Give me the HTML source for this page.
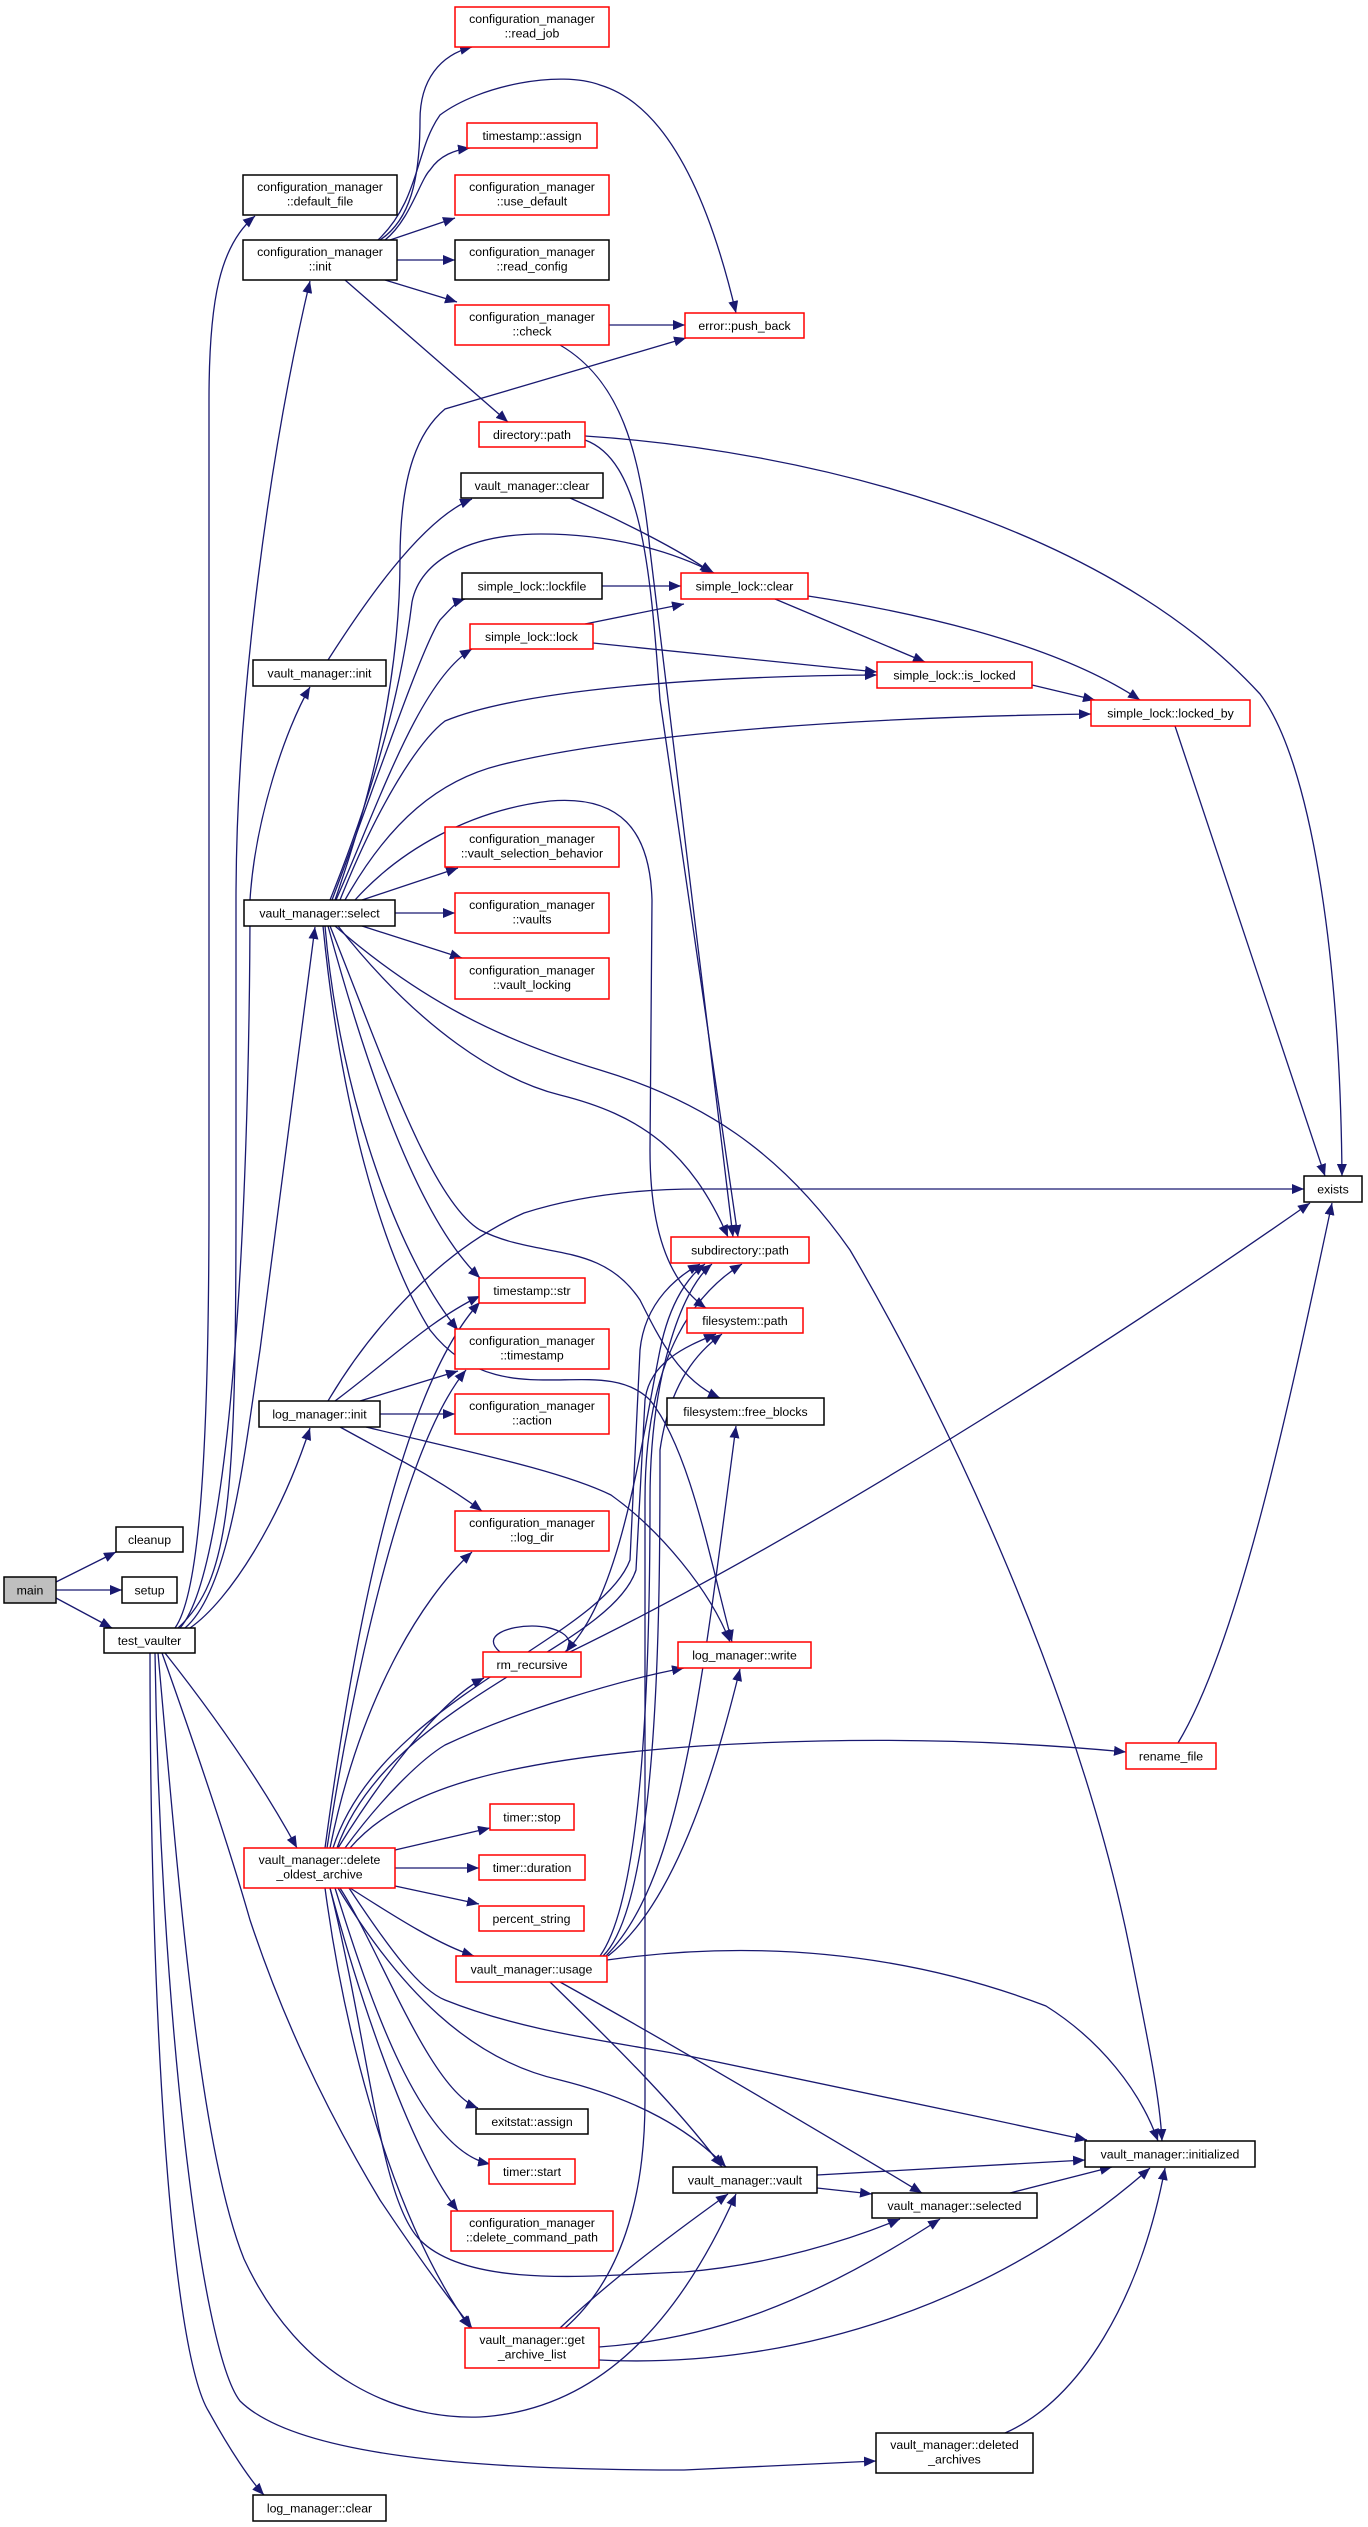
<!DOCTYPE html>
<html><head><meta charset="utf-8"><style>
html,body{margin:0;padding:0;background:#fff;}
svg{display:block;}
text{font-family:"Liberation Sans",Arial,sans-serif;font-size:12.3px;fill:#000;text-anchor:middle;}
.r{fill:#fff;stroke:#ff0000;stroke-width:1.5;}
.k{fill:#fff;stroke:#000;stroke-width:1.5;}
.g{fill:#bfbfbf;stroke:#000;stroke-width:1.5;}
.e{fill:none;stroke:#191970;stroke-width:1.3;marker-end:url(#a);}
</style></head><body>
<svg width="1368" height="2527" viewBox="0 0 1368 2527" xmlns="http://www.w3.org/2000/svg">
<defs><marker id="a" markerUnits="userSpaceOnUse" markerWidth="13" markerHeight="10" refX="12" refY="5" orient="auto"><path d="M0,0 L12,5 L0,10 z" fill="#191970"/></marker></defs>
<g>
<path class="e" d="M56,1582 L116,1552"/>
<path class="e" d="M56,1590 L122,1590"/>
<path class="e" d="M56,1598 L112,1628"/>
<path class="e" d="M175,1628 C195,1600 209,1500 209,1200 L209,400 C209,300 220,245 255,216"/>
<path class="e" d="M178,1628 C230,1580 236,1500 236,1200 L236,900 C236,700 270,450 310,281"/>
<path class="e" d="M180,1628 C240,1560 250,1100 250,900 C255,820 285,730 310,687"/>
<path class="e" d="M185,1628 C230,1590 245,1450 260,1350 L315,927"/>
<path class="e" d="M190,1628 C230,1600 280,1520 310,1428"/>
<path class="e" d="M165,1653 C210,1710 260,1780 297,1848"/>
<path class="e" d="M162,1653 C200,1760 230,1850 250,1920 C280,2010 320,2100 380,2200 C420,2260 450,2300 472,2328"/>
<path class="e" d="M158,1653 C180,1900 200,2150 244,2259 C300,2380 400,2420 480,2417 C600,2410 680,2320 736,2194"/>
<path class="e" d="M155,1653 C160,2000 200,2350 240,2401 C300,2460 500,2470 684,2470 L876,2461"/>
<path class="e" d="M150,1653 C150,2000 170,2350 209,2412 C230,2450 250,2480 264,2495"/>
<path class="e" d="M380,240 C410,220 420,180 420,120 C420,80 440,55 472,47"/>
<path class="e" d="M385,240 C410,220 420,180 430,170 C440,155 455,150 470,148"/>
<path class="e" d="M390,240 L455,218"/>
<path class="e" d="M397,260 L455,260"/>
<path class="e" d="M385,280 L457,302"/>
<path class="e" d="M345,280 L508,422"/>
<path class="e" d="M378,240 C420,200 415,150 440,115 C480,85 560,70 600,85 C650,100 700,160 736,313"/>
<path class="e" d="M609,325 L685,325"/>
<path class="e" d="M560,345 C620,380 640,450 650,550 L733,1237"/>
<path class="e" d="M585,440 C640,460 650,560 660,700 L738,1237"/>
<path class="e" d="M585,436 C800,450 1100,520 1260,694 C1310,760 1340,950 1342,1176"/>
<path class="e" d="M328,660 C360,610 420,520 472,499"/>
<path class="e" d="M570,498 C620,520 680,550 712,573"/>
<path class="e" d="M602,586 L681,586"/>
<path class="e" d="M585,624 L684,604"/>
<path class="e" d="M593,643 L877,672"/>
<path class="e" d="M775,599 L925,662"/>
<path class="e" d="M808,596 C900,610 1050,640 1140,700"/>
<path class="e" d="M1032,685 L1095,700"/>
<path class="e" d="M1175,726 L1325,1176"/>
<path class="e" d="M335,900 C370,800 400,680 400,560 C400,470 420,430 445,409 L686,338"/>
<path class="e" d="M330,900 C370,800 400,700 412,602 C420,560 470,534 541,534 C620,534 680,555 714,573"/>
<path class="e" d="M332,900 C370,800 420,650 440,620 C450,610 455,602 465,599"/>
<path class="e" d="M336,900 C380,800 420,680 472,649"/>
<path class="e" d="M340,900 C380,800 420,740 445,721 C520,690 700,676 877,675"/>
<path class="e" d="M345,900 C390,820 440,780 500,765 C600,740 800,718 1091,714"/>
<path class="e" d="M355,900 C400,850 470,810 550,801 C620,795 650,830 652,900 L650,1150 C650,1250 680,1290 706,1308"/>
<path class="e" d="M362,900 L458,868"/>
<path class="e" d="M395,913 L455,913"/>
<path class="e" d="M362,926 L462,958"/>
<path class="e" d="M335,926 C420,1000 500,1040 600,1070 C700,1100 780,1150 850,1250 C950,1420 1080,1700 1130,1950 C1150,2050 1160,2100 1162,2141"/>
<path class="e" d="M338,926 C420,1030 500,1080 560,1095 C640,1115 690,1150 728,1237"/>
<path class="e" d="M330,926 C380,1050 430,1200 480,1230 C540,1260 600,1240 640,1300 C660,1340 680,1380 720,1398"/>
<path class="e" d="M328,926 C370,1080 420,1220 480,1278"/>
<path class="e" d="M325,926 C340,1100 400,1260 458,1330"/>
<path class="e" d="M323,926 C340,1100 380,1250 430,1330 C500,1420 600,1350 650,1400 C690,1450 710,1560 732,1642"/>
<path class="e" d="M328,1401 C370,1330 440,1250 524,1213 C580,1195 640,1189 700,1189 L1304,1189"/>
<path class="e" d="M335,1401 C390,1360 430,1320 480,1296"/>
<path class="e" d="M360,1401 L458,1371"/>
<path class="e" d="M380,1414 L455,1414"/>
<path class="e" d="M340,1427 C400,1460 440,1480 482,1511"/>
<path class="e" d="M366,1427 C460,1450 560,1470 611,1495 C660,1530 710,1590 730,1642"/>
<path class="e" d="M325,1848 C345,1700 390,1400 480,1302"/>
<path class="e" d="M327,1848 C350,1700 400,1450 466,1370"/>
<path class="e" d="M330,1848 C360,1700 420,1600 472,1552"/>
<path class="e" d="M333,1848 C380,1700 600,1640 630,1560 L640,1350 C645,1300 680,1275 700,1264"/>
<path class="e" d="M337,1848 C390,1700 610,1650 636,1570 L645,1400 C650,1360 690,1345 716,1334"/>
<path class="e" d="M338,1848 C380,1780 440,1700 484,1678"/>
<path class="e" d="M345,1848 C380,1800 420,1760 445,1745 C520,1710 620,1680 684,1668"/>
<path class="e" d="M350,1848 C400,1790 500,1760 700,1746 C860,1736 1000,1740 1126,1752"/>
<path class="e" d="M395,1850 L490,1828"/>
<path class="e" d="M395,1868 L479,1868"/>
<path class="e" d="M395,1886 L479,1904"/>
<path class="e" d="M350,1888 C400,1920 440,1945 474,1956"/>
<path class="e" d="M340,1888 C380,1950 430,2090 478,2108"/>
<path class="e" d="M335,1888 C370,2000 420,2150 490,2164"/>
<path class="e" d="M330,1888 C360,2000 410,2150 458,2211"/>
<path class="e" d="M325,1888 C340,2000 380,2200 470,2328"/>
<path class="e" d="M349,1888 C390,1950 420,1990 445,2000 C520,2030 600,2040 684,2055 C800,2080 950,2110 1087,2140"/>
<path class="e" d="M338,1888 C400,1990 470,2060 560,2080 C640,2100 690,2130 726,2167"/>
<path class="e" d="M330,1888 C370,2050 380,2200 420,2240 C470,2290 600,2275 684,2272 C770,2265 850,2240 900,2219"/>
<path class="e" d="M565,1652 C620,1600 640,1450 660,1350 C670,1300 690,1275 705,1264"/>
<path class="e" d="M570,1652 C800,1540 1100,1350 1310,1203"/>
<path class="e" d="M500,1652 C480,1635 510,1626 532,1626 C555,1626 578,1636 566,1652"/>
<path class="e" d="M600,1956 C640,1900 650,1700 650,1500 C650,1380 680,1290 712,1264"/>
<path class="e" d="M603,1956 C660,1900 660,1600 660,1450 C670,1380 700,1350 722,1334"/>
<path class="e" d="M606,1956 C680,1880 700,1700 736,1426"/>
<path class="e" d="M608,1956 C680,1900 720,1750 740,1669"/>
<path class="e" d="M607,1960 C750,1940 900,1950 1046,2006 C1100,2040 1140,2090 1158,2141"/>
<path class="e" d="M550,1982 C620,2050 680,2110 722,2167"/>
<path class="e" d="M560,1982 C700,2060 850,2150 922,2193"/>
<path class="e" d="M817,2175 L1085,2160"/>
<path class="e" d="M817,2188 L872,2194"/>
<path class="e" d="M1010,2193 L1112,2167"/>
<path class="e" d="M560,2328 C600,2290 650,2250 728,2194"/>
<path class="e" d="M565,2328 C620,2280 645,2200 645,2100 L645,1500 C645,1350 700,1290 742,1264"/>
<path class="e" d="M599,2347 C700,2340 800,2310 940,2219"/>
<path class="e" d="M599,2360 C800,2370 1000,2300 1150,2168"/>
<path class="e" d="M1005,2433 C1080,2400 1140,2300 1165,2168"/>
<path class="e" d="M1178,1743 C1240,1640 1290,1400 1332,1203"/>
</g>
<g>
<rect class="g" x="4" y="1577" width="52" height="26"/><text x="30" y="1594.5">main</text>
<rect class="k" x="116" y="1527" width="67" height="25"/><text x="149.5" y="1544">cleanup</text>
<rect class="k" x="122" y="1577" width="55" height="26"/><text x="149.5" y="1594.5">setup</text>
<rect class="k" x="104" y="1628" width="91" height="25"/><text x="149.5" y="1645">test_vaulter</text>
<rect class="k" x="243" y="175" width="154" height="40"/><text x="320" y="191">configuration_manager</text><text x="320" y="205.5">::default_file</text>
<rect class="k" x="243" y="240" width="154" height="40"/><text x="320" y="256">configuration_manager</text><text x="320" y="270.5">::init</text>
<rect class="r" x="455" y="7" width="154" height="40"/><text x="532" y="23">configuration_manager</text><text x="532" y="37.5">::read_job</text>
<rect class="r" x="467" y="123" width="130" height="25"/><text x="532" y="140">timestamp::assign</text>
<rect class="r" x="455" y="175" width="154" height="40"/><text x="532" y="191">configuration_manager</text><text x="532" y="205.5">::use_default</text>
<rect class="k" x="455" y="240" width="154" height="40"/><text x="532" y="256">configuration_manager</text><text x="532" y="270.5">::read_config</text>
<rect class="r" x="455" y="305" width="154" height="40"/><text x="532" y="321">configuration_manager</text><text x="532" y="335.5">::check</text>
<rect class="r" x="685" y="313" width="119" height="25"/><text x="744.5" y="330">error::push_back</text>
<rect class="r" x="479" y="422" width="106" height="25"/><text x="532" y="439">directory::path</text>
<rect class="k" x="461" y="473" width="142" height="25"/><text x="532" y="490">vault_manager::clear</text>
<rect class="k" x="462" y="573" width="140" height="26"/><text x="532" y="590.5">simple_lock::lockfile</text>
<rect class="r" x="681" y="573" width="127" height="26"/><text x="744.5" y="590.5">simple_lock::clear</text>
<rect class="r" x="470" y="624" width="123" height="25"/><text x="531.5" y="641">simple_lock::lock</text>
<rect class="r" x="877" y="662" width="155" height="26"/><text x="954.5" y="679.5">simple_lock::is_locked</text>
<rect class="r" x="1091" y="700" width="159" height="26"/><text x="1170.5" y="717.5">simple_lock::locked_by</text>
<rect class="k" x="253" y="660" width="133" height="26"/><text x="319.5" y="677.5">vault_manager::init</text>
<rect class="r" x="445" y="827" width="174" height="40"/><text x="532" y="843">configuration_manager</text><text x="532" y="857.5">::vault_selection_behavior</text>
<rect class="k" x="244" y="900" width="151" height="26"/><text x="319.5" y="917.5">vault_manager::select</text>
<rect class="r" x="455" y="893" width="154" height="40"/><text x="532" y="909">configuration_manager</text><text x="532" y="923.5">::vaults</text>
<rect class="r" x="455" y="958" width="154" height="41"/><text x="532" y="974.5">configuration_manager</text><text x="532" y="989">::vault_locking</text>
<rect class="k" x="1304" y="1176" width="58" height="26"/><text x="1333" y="1193.5">exists</text>
<rect class="r" x="671" y="1237" width="138" height="26"/><text x="740" y="1254.5">subdirectory::path</text>
<rect class="r" x="479" y="1278" width="106" height="25"/><text x="532" y="1295">timestamp::str</text>
<rect class="r" x="687" y="1308" width="116" height="25"/><text x="745" y="1325">filesystem::path</text>
<rect class="r" x="455" y="1329" width="154" height="40"/><text x="532" y="1345">configuration_manager</text><text x="532" y="1359.5">::timestamp</text>
<rect class="k" x="259" y="1401" width="121" height="26"/><text x="319.5" y="1418.5">log_manager::init</text>
<rect class="r" x="455" y="1394" width="154" height="40"/><text x="532" y="1410">configuration_manager</text><text x="532" y="1424.5">::action</text>
<rect class="k" x="667" y="1398" width="157" height="27"/><text x="745.5" y="1416">filesystem::free_blocks</text>
<rect class="r" x="455" y="1511" width="154" height="40"/><text x="532" y="1527">configuration_manager</text><text x="532" y="1541.5">::log_dir</text>
<rect class="r" x="678" y="1642" width="133" height="26"/><text x="744.5" y="1659.5">log_manager::write</text>
<rect class="r" x="483" y="1652" width="98" height="25"/><text x="532" y="1669">rm_recursive</text>
<rect class="r" x="1126" y="1743" width="90" height="26"/><text x="1171" y="1760.5">rename_file</text>
<rect class="r" x="490" y="1804" width="84" height="26"/><text x="532" y="1821.5">timer::stop</text>
<rect class="r" x="244" y="1848" width="151" height="40"/><text x="319.5" y="1864">vault_manager::delete</text><text x="319.5" y="1878.5">_oldest_archive</text>
<rect class="r" x="479" y="1855" width="106" height="25"/><text x="532" y="1872">timer::duration</text>
<rect class="r" x="479" y="1906" width="105" height="25"/><text x="531.5" y="1923">percent_string</text>
<rect class="r" x="456" y="1956" width="151" height="26"/><text x="531.5" y="1973.5">vault_manager::usage</text>
<rect class="k" x="476" y="2109" width="112" height="25"/><text x="532" y="2126">exitstat::assign</text>
<rect class="k" x="1085" y="2141" width="170" height="26"/><text x="1170" y="2158.5">vault_manager::initialized</text>
<rect class="r" x="489" y="2159" width="86" height="25"/><text x="532" y="2176">timer::start</text>
<rect class="k" x="673" y="2167" width="144" height="26"/><text x="745" y="2184.5">vault_manager::vault</text>
<rect class="k" x="872" y="2193" width="165" height="25"/><text x="954.5" y="2210">vault_manager::selected</text>
<rect class="r" x="451" y="2211" width="162" height="40"/><text x="532" y="2227">configuration_manager</text><text x="532" y="2241.5">::delete_command_path</text>
<rect class="r" x="465" y="2328" width="134" height="40"/><text x="532" y="2344">vault_manager::get</text><text x="532" y="2358.5">_archive_list</text>
<rect class="k" x="876" y="2433" width="157" height="40"/><text x="954.5" y="2449">vault_manager::deleted</text><text x="954.5" y="2463.5">_archives</text>
<rect class="k" x="253" y="2495" width="133" height="26"/><text x="319.5" y="2512.5">log_manager::clear</text>
</g>
</svg>
</body></html>
